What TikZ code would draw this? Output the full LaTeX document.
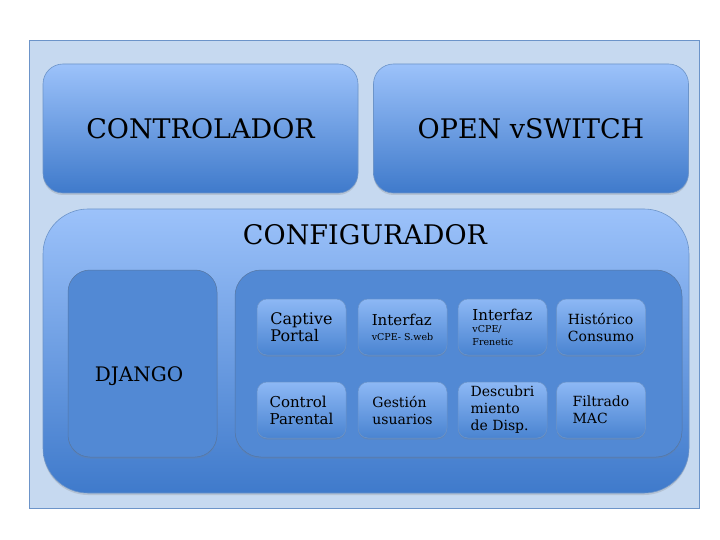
\documentclass[tikz,border=0pt]{standalone}
\usepackage{fontspec}
\setmainfont{DejaVu Serif}
\usetikzlibrary{shadows}
\definecolor{bgblue}{HTML}{C6D9F0}
\definecolor{edgeblue}{HTML}{6C94C9}
\definecolor{lightblue}{HTML}{9CC2FA}
\definecolor{deepblue}{HTML}{3F7ACB}
\definecolor{flatblue}{HTML}{5289D4}
\definecolor{modtop}{HTML}{8DB8F5}
\definecolor{modbot}{HTML}{4A84D1}
\tikzset{
	shade box/.style={draw=edgeblue, line width=0.6pt, top color=lightblue, bottom color=deepblue,
		drop shadow={shadow xshift=0pt, shadow yshift=-2pt, opacity=0.25}},
	topbox/.style={shade box, rounded corners=20pt, minimum width=315pt, minimum height=129pt,
		font=\fontsize{27}{30}\selectfont},
	cfgbox/.style={shade box, rounded corners=45pt, minimum width=646pt, minimum height=284pt},
	flatbox/.style={draw=edgeblue!80!black, line width=0.5pt, fill=flatblue,
		drop shadow={shadow xshift=0pt, shadow yshift=-1.5pt, opacity=0.25}},
	modbox/.style={draw=edgeblue, line width=0.5pt, top color=modtop, bottom color=modbot,
		rounded corners=10pt, minimum width=89pt, minimum height=56pt, align=left,
		inner sep=2pt, font=\fontsize{14}{17}\selectfont,
		drop shadow={shadow xshift=0pt, shadow yshift=-1.5pt, opacity=0.3}}
}
\newcommand{\subtxt}{\fontsize{9.5}{12}\selectfont}
\begin{document}
\begin{tikzpicture}[x=1pt, y=-1pt]
	\useasboundingbox (0,0) rectangle (720,540);
	\fill[white] (0,0) rectangle (720,540);
	% background frame
	\draw[edgeblue, fill=bgblue, line width=0.8pt] (29,40) rectangle (699,508);
	% upper blocks
	\node[topbox] (ctrl) at (200.5,128.5) {CONTROLADOR};
	\node[topbox] (ovs) at (531,128.5) {OPEN vSWITCH};
	% configurador
	\node[cfgbox] (cfg) at (366,351) {};
	\node[font=\fontsize{27}{30}\selectfont] (cfgtitle) at (365,235) {CONFIGURADOR};
	\node[flatbox, rounded corners=22pt, minimum width=149pt, minimum height=187pt] (django) at (142.5,363.5) {};
	\node[font=\fontsize{20}{22}\selectfont] (djtxt) at (139,376) {DJANGO};
	\node[flatbox, rounded corners=26pt, minimum width=447pt, minimum height=187pt] (mods) at (458.5,363.5) {};
	% modules
	\foreach \n/\x/\y/\t in {
		cap/301.5/327/{\fontsize{16}{20}\selectfont Captive\\\fontsize{16}{20}\selectfont Portal},
		ifw/402.5/327/{\fontsize{15}{16}\selectfont Interfaz\\[-2pt]\subtxt vCPE- S.web},
		iff/502.5/327/{\fontsize{15}{15}\selectfont Interfaz\\[-5pt]\subtxt vCPE/\\[-4pt]\subtxt Frenetic},
		his/601/327/{Histórico\\Consumo},
		par/301.5/410/{\fontsize{15}{18}\selectfont Control\\\fontsize{15}{18}\selectfont Parental},
		ges/402.5/410/{Gestión\\usuarios},
		des/502.5/410/{Descubri\\miento\\de Disp.},
		mac/601/410/{Filtrado\\MAC}}{
		\node[modbox] (\n) at (\x,\y) {\t};
	}
\end{tikzpicture}
\end{document}
